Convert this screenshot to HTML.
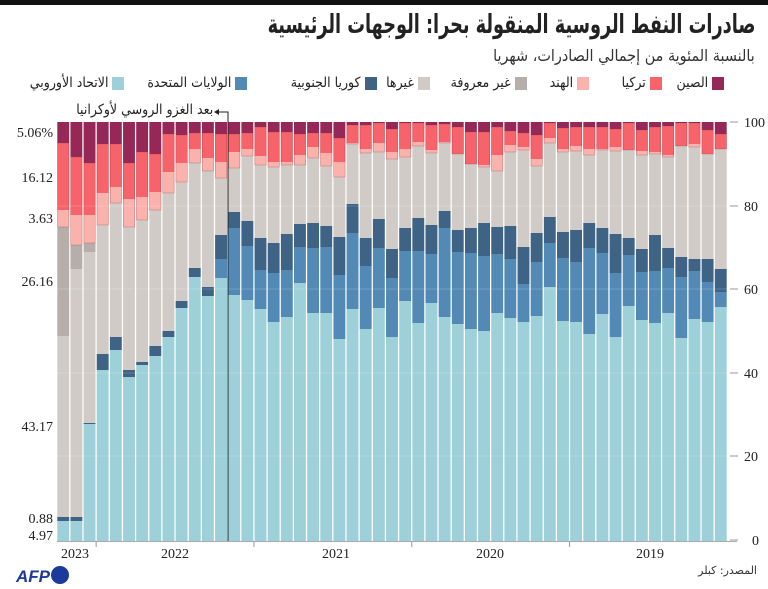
<!DOCTYPE html>
<html><head><meta charset="utf-8">
<style>
body{margin:0;background:#fff;width:768px;height:589px;overflow:hidden;position:relative;font-family:"Liberation Serif","DejaVu Serif",serif;}
.t{position:absolute;white-space:nowrap;direction:rtl;font-family:"DejaVu Sans",sans-serif;color:#222;transform-origin:right center;}
.sw{position:absolute;width:12px;height:13px;top:77px;}
</style></head><body>
<div style="position:absolute;left:0;top:0;width:768px;height:5px;background:#111"></div>
<div class="t" style="right:13px;top:10px;font-size:26px;font-weight:bold;transform:scaleX(0.68)">صادرات النفط الروسية المنقولة بحرا: الوجهات الرئيسية</div>
<div class="t" style="right:13px;top:46px;font-size:16px;color:#333;transform:scaleX(0.9)">بالنسبة المئوية من إجمالي الصادرات، شهريا</div>

<div class="sw" style="left:712px;background:#952856"></div><div class="t" style="right:60px;top:75px;font-size:14px;transform:scaleX(0.9)">الصين</div>
<div class="sw" style="left:650px;background:#f7636a"></div><div class="t" style="right:122px;top:75px;font-size:14px;transform:scaleX(0.9)">تركيا</div>
<div class="sw" style="left:577px;background:#f9b3ac"></div><div class="t" style="right:195px;top:75px;font-size:14px;transform:scaleX(0.9)">الهند</div>
<div class="sw" style="left:515px;background:#b6afa9"></div><div class="t" style="right:257px;top:75px;font-size:14px;transform:scaleX(0.9)">غير معروفة</div>
<div class="sw" style="left:418px;background:#d0cbc7"></div><div class="t" style="right:354px;top:75px;font-size:14px;transform:scaleX(0.9)">غيرها</div>
<div class="sw" style="left:365px;background:#3e6385"></div><div class="t" style="right:407px;top:75px;font-size:14px;transform:scaleX(0.9)">كوريا الجنوبية</div>
<div class="sw" style="left:235px;background:#5289b5"></div><div class="t" style="right:537px;top:75px;font-size:14px;transform:scaleX(0.9)">الولايات المتحدة</div>
<div class="sw" style="left:112px;background:#9dd0d8"></div><div class="t" style="right:660px;top:75px;font-size:14px;transform:scaleX(0.9)">الاتحاد الأوروبي</div>

<div class="t" style="right:555px;top:102px;font-size:14px;transform:scaleX(0.9)">بعد الغزو الروسي لأوكرانيا</div>
<div class="t" style="right:11px;top:564px;font-size:11px;color:#333">المصدر: كبلر</div>

<svg width="768" height="589" style="position:absolute;left:0;top:0" id="s" xmlns="http://www.w3.org/2000/svg"></svg>
<script>
var D=[
[521,517,336,227,210,143],[521,517,269,245,215,157],[424,423,252,243,215,163],
[370,354,225,225,193,144],[350,337,203,203,187,144],[377,370,227,227,199,163],
[365,362,220,220,197,152],[356,346,210,210,192,154],[337,331,193,193,172,134],
[308,301,182,182,163,135],[277,268,163,163,149,133],[296,287,171,171,158,133],
[278,259,235,178,178,162,134],[295,228,212,168,168,152,134],[300,246,221,156,156,149,133],
[309,270,238,165,165,156,127],[322,273,243,167,167,162,132],[317,270,234,165,165,162,132],
[283,247,224,165,165,155,134],[313,248,223,158,158,147,133],[313,247,226,166,166,153,133],
[339,275,237,177,177,162,138],[309,233,204,144,144,143,125],[329,266,238,153,153,149,125],
[308,248,219,152,152,143,123],[337,278,249,159,159,152,129],[301,251,228,157,157,149,123],
[323,251,218,146,146,142,123],[303,254,225,153,153,150,125],[317,228,211,143,143,142,124],
[324,252,230,154,154,154,127],[329,253,228,164,164,164,132],[331,256,223,167,167,165,132],
[313,254,227,171,171,155,127],[318,259,226,152,152,145,131],[322,284,247,150,150,147,133],
[316,262,233,166,166,159,135],[287,243,217,143,143,138,123],[321,258,232,152,152,149,128],
[322,262,230,151,151,146,127],[334,248,223,155,155,149,127],[314,253,228,150,150,149,127],
[337,273,234,151,151,147,129],[306,255,238,150,150,150,123],[320,272,249,155,155,151,130],
[323,271,235,154,154,152,127],[313,268,248,157,157,155,126],[338,277,257,146,146,146,123],
[319,271,259,147,147,144,123],[322,282,259,154,154,154,130],[307,292,269,149,149,149,134]];
var C=["#9dd0d8","#5289b5","#3e6385","#d0cbc7","#b6afa9","#f9b3ac","#f7636a","#952856"];
var s='',B=541,T=122;
for(var i=0;i<51;i++){var d=D[i];if(d.length==6)d=[d[0],d[0],d[1],d[2],d[3],d[4],d[5]];
 var x=57.3+i*13.15,w=11.9,prev=B;
 var tops=d.concat([T]);
 for(var k=0;k<8;k++){var y=tops[k];if(prev-y>0.2){
  s+='<rect x="'+x+'" y="'+y+'" width="'+w+'" height="'+(prev-y)+'" fill="'+C[k]+'"/>';}
  prev=y;}
 s+='<rect x="'+(x+0.3)+'" y="'+d[6]+'" width="'+(w-0.6)+'" height="'+(d[4]-d[6])+'" fill="none" stroke="#8a3540" stroke-width="0.5" opacity="0.5"/>';
}
[206,289,373,456].forEach(function(y){s+='<line x1="57" x2="730" y1="'+y+'" y2="'+y+'" stroke="#fff" stroke-width="0.6" opacity="0.35"/>';});
[[122,'100'],[206,'80'],[289,'60'],[373,'40'],[456,'20'],[540,'0']].forEach(function(a){
 s+='<line x1="730" x2="738" y1="'+a[0]+'" y2="'+a[0]+'" stroke="#999"/>';
 s+='<text x="'+(a[1]=='0'?752:744)+'" y="'+(a[0]+5)+'" font-size="14" fill="#222" font-family="Liberation Serif">'+a[1]+'</text>';});
s+='<line x1="57" x2="737" y1="541.5" y2="541.5" stroke="#aaa"/>';
[3,15,27,39].forEach(function(b){var x=57.3+b*13.15-0.6;s+='<line x1="'+x+'" x2="'+x+'" y1="541" y2="547" stroke="#999"/>';});
[[75,'2023'],[175,'2022'],[336,'2021'],[490,'2020'],[650,'2019']].forEach(function(a){s+='<text x="'+a[0]+'" y="558" text-anchor="middle" font-size="14" fill="#222" font-family="Liberation Serif">'+a[1]+'</text>';});
[[137,'5.06%'],[182,'16.12'],[223,'3.63'],[286,'26.16'],[431,'43.17'],[523,'0.88'],[540,'4.97']].forEach(function(a){s+='<text x="53" y="'+a[0]+'" text-anchor="end" font-size="14" fill="#222" font-family="Liberation Serif">'+a[1]+'</text>';});
s+='<polyline points="228,541 228,112 219,112" fill="none" stroke="#222" stroke-width="1"/><path d="M214,112 l5,-3 v6z" fill="#222"/>';
s+='<text x="16" y="582" font-size="17" font-weight="bold" font-style="italic" fill="#1b3a9a" font-family="Liberation Sans">AFP</text><circle cx="60" cy="575" r="9" fill="#1b3a9a"/>';
document.getElementById('s').innerHTML=s;
</script>
</body></html>
